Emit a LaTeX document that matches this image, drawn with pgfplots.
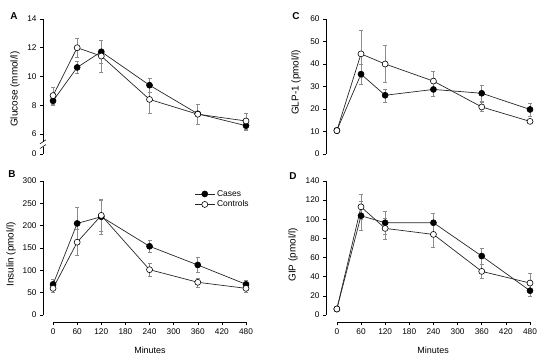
\documentclass[border=0pt]{standalone}
\usepackage{fontspec}
\setmainfont{Liberation Sans}
\usepackage{pgfplots}
\pgfplotsset{compat=1.18}
\usepackage{pgfplotstable}

% t = minutes, m = mean, e = error
\pgfplotstableread{
t m e
0 8.3 0.3
60 10.63 0.4
120 11.72 0.8
240 9.39 0.5
360 7.4 0.7
480 6.57 0.33
}\Acases
\pgfplotstableread{
t m e
0 8.67 0.6
60 12.0 0.65
120 11.42 1.1
240 8.4 0.94
360 7.37 0.7
480 6.9 0.56
}\Acontrols
\pgfplotstableread{
t m e
0 68.6 11
60 205 37
120 220 38
240 153.8 14
360 112 17
480 68.7 10
}\Bcases
\pgfplotstableread{
t m e
0 59.7 9
60 163 30
120 223 36
240 101.5 14
360 73.2 10
480 59.7 8
}\Bcontrols
\pgfplotstableread{
t m e
0 10.5 1
60 35.5 4.5
120 26.1 2.9
240 28.7 3
360 27 3.7
480 19.8 3
}\Ccases
\pgfplotstableread{
t m e
0 10.4 1
60 44.5 10.4
120 40 8.2
240 32.4 4.2
360 20.9 2
480 14.5 1
}\Ccontrols
\pgfplotstableread{
t m e
0 6.3 1
60 103.7 15
120 96.4 12
240 96.4 10
360 61.6 8
480 25.4 5.6
}\Dcases
\pgfplotstableread{
t m e
0 6.3 1
60 113 13
120 90.5 11
240 84.2 13
360 45.6 7
480 33.4 10
}\Dcontrols

\pgfplotsset{
  panel/.style={scale only axis, clip=false, xmax=480,
    axis y line*=left, tick align=outside, major tick length=3bp,
    tick style={black, line width=0.5pt}, axis line style={black, line width=0.6pt},
    ticklabel style={font=\fontsize{8.3}{10}\selectfont},
    /pgf/number format/assume math mode=true,
    label style={font=\fontsize{9}{11}\selectfont},
    ylabel style={font=\fontsize{10}{12}\selectfont},
    xtick={0,60,...,480}},
  cases/.style={draw=black!85, line width=0.7pt, mark=*, mark size=3bp,
    mark options={draw=black, fill=black, line width=0.6pt},
    error bars/.cd, y dir=both, y explicit,
    error bar style={draw=black!45, line width=0.6pt},
    error mark options={draw=black!45, mark size=2bp, rotate=90}},
  controls/.style={draw=black!85, line width=0.7pt, mark=*, mark size=3bp,
    mark options={draw=black, fill=white, line width=0.6pt},
    error bars/.cd, y dir=both, y explicit,
    error bar style={draw=black!45, line width=0.6pt},
    error mark options={draw=black!45, mark size=2bp, rotate=90}},
}

\begin{document}
\begin{tikzpicture}
\useasboundingbox (0,0) rectangle (550bp,-360bp);

% Panel A
\begin{axis}[panel, at={(43bp,-154bp)}, anchor=south west,
  width=203bp, height=135bp, xmin=-25, ymin=4.6, ymax=14,
  axis x line=none,
  ytick={4.6,6,8,10,12,14}, yticklabels={0,6,8,10,12,14},
  ylabel={Glucose (mmol/l)},
  ylabel style={at={(axis description cs:-0.138,0.48)}, anchor=center}]
\addplot[cases] table[x=t, y=m, y error=e] {\Acases};
\addplot[controls] table[x=t, y=m, y error=e] {\Acontrols};
\draw[white, line width=3bp] (axis cs:-25,5.12) -- (axis cs:-25,5.45);
\draw[black, line width=0.5pt] ([xshift=-3bp,yshift=-2bp]axis cs:-25,5.12) -- ([xshift=3bp,yshift=2bp]axis cs:-25,5.12);
\draw[black, line width=0.5pt] ([xshift=-3bp,yshift=-2bp]axis cs:-25,5.45) -- ([xshift=3bp,yshift=2bp]axis cs:-25,5.45);
\end{axis}

% Panel B
\begin{axis}[panel, at={(43bp,-322bp)}, anchor=south west,
  width=203bp, height=141bp, xmin=-25, ymin=-15.7, ymax=300,
  axis x line*=bottom,
  x axis line style={shorten <=10bp},
  y axis line style={shorten <=7bp},
  ytick={0,50,...,300},
  ylabel={Insulin (pmol/l)},
  ylabel style={at={(axis description cs:-0.158,0.48)}, anchor=center},
  xlabel={Minutes},
  xlabel style={at={(axis description cs:0.527,-0.199)}, anchor=center},
  legend style={draw=none, fill=none, inner sep=0pt, row sep=-1bp,
    font=\fontsize{8.5}{10}\selectfont,
    at={(axis description cs:0.745,0.95)}, anchor=north west},
  legend cell align=left,
  legend image code/.code={\draw[mark repeat=2, mark phase=2, #1] plot coordinates {(0bp,0bp) (10bp,0bp) (20bp,0bp)};}]
\addplot[cases] table[x=t, y=m, y error=e] {\Bcases};
\addlegendentry{Cases}
\addplot[controls] table[x=t, y=m, y error=e] {\Bcontrols};
\addlegendentry{Controls}
\end{axis}

% Panel C
\begin{axis}[panel, at={(326bp,-154bp)}, anchor=south west,
  width=204bp, height=135bp, xmin=-27, ymin=0, ymax=60,
  axis x line=none,
  ytick={0,10,...,60},
  ylabel={GLP-1 (pmol/l)},
  ylabel style={at={(axis description cs:-0.147,0.53)}, anchor=center}]
\addplot[cases] table[x=t, y=m, y error=e] {\Ccases};
\addplot[controls] table[x=t, y=m, y error=e] {\Ccontrols};
\end{axis}

% Panel D
\begin{axis}[panel, at={(326bp,-322bp)}, anchor=south west,
  width=204bp, height=141bp, xmin=-27, ymin=-7.3, ymax=140,
  axis x line*=bottom,
  x axis line style={shorten <=10.9bp},
  y axis line style={shorten <=7bp},
  ytick={0,20,...,140},
  ylabel={GIP (pmol/l)},
  ylabel style={at={(axis description cs:-0.162,0.475)}, anchor=center},
  xlabel={Minutes},
  xlabel style={at={(axis description cs:0.525,-0.199)}, anchor=center}]
\addplot[cases] table[x=t, y=m, y error=e] {\Dcases};
\addplot[controls] table[x=t, y=m, y error=e] {\Dcontrols};
\end{axis}

\node[font=\bfseries\fontsize{10}{12}\selectfont] at (14bp,-16bp) {A};
\node[font=\bfseries\fontsize{10}{12}\selectfont] at (12bp,-174bp) {B};
\node[font=\bfseries\fontsize{10}{12}\selectfont] at (296bp,-16bp) {C};
\node[font=\bfseries\fontsize{10}{12}\selectfont] at (293bp,-176bp) {D};
\end{tikzpicture}
\end{document}
